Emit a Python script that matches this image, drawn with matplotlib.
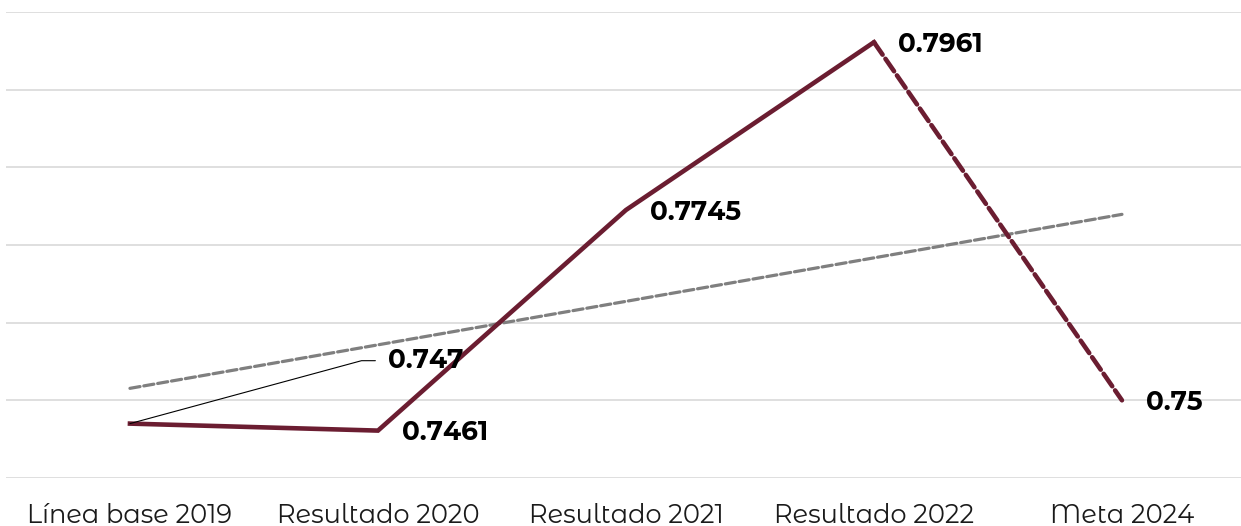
import matplotlib
matplotlib.use('Agg')
import matplotlib.pyplot as plt
import numpy as np

# data
categories = ['Línea base 2019', 'Resultado 2020', 'Resultado 2021',
              'Resultado 2022', 'Meta 2024']
values = [0.747, 0.7461, 0.7745, 0.7961, 0.75]
labels = ['0.747', '0.7461', '0.7745', '0.7961', '0.75']

maroon = '#6B1D31'
gray = '#7F7F7F'

plt.rcParams['font.family'] = ['Montserrat Alternates', 'DejaVu Sans']

fig = plt.figure(figsize=(12.41, 5.26), dpi=100)
ax = fig.add_axes([0.0048, 0.0913, 0.9952, 0.886])
x = np.arange(len(categories))

# linear trend over all points
slope, icept = np.polyfit(x, values, 1)
ax.plot(x, slope * x + icept, color=gray, lw=2.3, ls=(0, (3.2, 1.2)),
        dash_capstyle='round', zorder=2)

# actual results solid, goal segment dashed
ax.plot(x[:4], values[:4], color=maroon, lw=3.3, solid_joinstyle='miter',
        zorder=3)
ax.plot(x[3:], values[3:], color=maroon, lw=3.3, ls=(0, (3.3, 1.1)),
        dash_capstyle='round', zorder=3)

# data labels
for i in range(1, len(values)):
    ax.annotate(labels[i], (x[i], values[i]), xytext=(17, -1.5),
                textcoords='offset points', ha='left', va='center',
                fontsize=19, fontweight='bold', color='black', zorder=4)
# first label with leader line
ax.annotate(labels[0], (x[0], values[0]), xytext=(1.04, 0.7551),
            textcoords='data', ha='left', va='center',
            fontsize=19, fontweight='bold', color='black', zorder=4,
            arrowprops=dict(arrowstyle='-', color='black', lw=0.8,
                            shrinkA=7, shrinkB=0,
                            connectionstyle='angle,angleA=0,angleB=15.2,rad=0'))

ax.set_xlim(-0.5, 4.48)
ax.set_ylim(0.74, 0.80)
ax.set_yticks(np.arange(0.74, 0.8001, 0.01))
ax.set_yticklabels([])
ax.yaxis.grid(True, color='#D9D9D9', lw=1.2)
ax.set_axisbelow(True)
ax.set_xticks(x)
ax.set_xticklabels(categories, fontsize=18.5, color='#1a1a1a')
ax.tick_params(axis='both', length=0)
ax.tick_params(axis='x', pad=18)
for s in ax.spines.values():
    s.set_visible(False)

plt.savefig('out.png', dpi=100)
